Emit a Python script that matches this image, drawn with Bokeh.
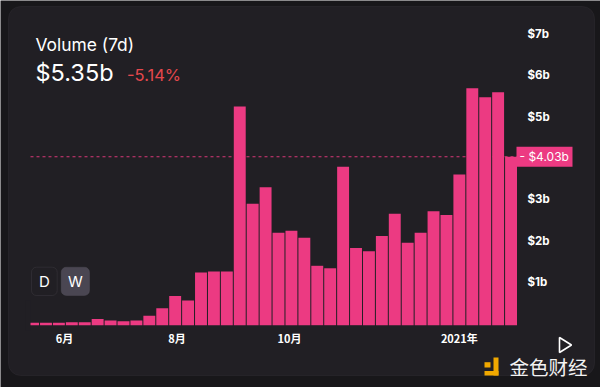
import pandas as pd
from bokeh.plotting import figure
from bokeh.models import (ColumnDataSource, FixedTicker, Label, BoxAnnotation,
                          PolyAnnotation, Range1d)
from bokeh.embed import file_html
from bokeh.resources import INLINE

# ---------------- data ----------------
weeks = pd.date_range("2020-05-15", periods=38, freq="7D")
volume_b = [0.01, 0.01, 0.01, 0.02, 0.02, 0.10, 0.065, 0.05, 0.065, 0.18,
            0.36, 0.66, 0.55, 1.23, 1.25, 1.25, 5.25, 2.89, 3.29, 2.19,
            2.24, 2.07, 1.39, 1.33, 3.79, 1.82, 1.74, 2.11, 2.65, 1.95,
            2.19, 2.71, 2.62, 3.60, 5.69, 5.47, 5.59, 4.03]
y_ticks = [1, 2, 3, 4, 5, 6, 7]
y_tick_labels = ["$1b", "$2b", "$3b", "$4b", "$5b", "$6b", "$7b"]
x_tick_dates = ["2020-06-01", "2020-08-01", "2020-10-01", "2021-01-01"]
x_tick_labels = ["6月", "8月", "10月", "2021年"]
title_text = "Volume (7d)"
total_text = "$5.35b"
change_text = "-5.14%"
last_value = 4.03
last_label = "- $4.03b"
buttons = ["D", "W"]
watermark = "金色财经"

# ---------------- style / layout ----------------
CARD = "#211f24"
PAGE = "#18171a"
PINK = "#ec3a82"
RED = "#e5484d"
GOLD = "#f0a800"
W, H = 600, 387
BARS_LEFT, BARS_RIGHT = 26.1, 517        # page px
CLIP_LEFT = 30                           # chart area left edge (page px)
ZERO_Y = 322.7                           # page px of value 0
px_per_b = 41.3
half_week = pd.Timedelta(days=3.5)
px_per_day = (BARS_RIGHT - BARS_LEFT) / (len(weeks) * 7)

bars_start = weeks[0] - half_week
bars_end = weeks[-1] + half_week
x_start = bars_start - pd.Timedelta(days=BARS_LEFT / px_per_day)
x_end = bars_end + pd.Timedelta(days=(W - BARS_RIGHT) / px_per_day)
line_start = bars_start + pd.Timedelta(days=(CLIP_LEFT - BARS_LEFT) / px_per_day)
y_start = -(H - ZERO_Y) / px_per_b
y_end = ZERO_Y / px_per_b
bar_bottom = -2.0 / px_per_b

src = ColumnDataSource(dict(week=weeks, vol=volume_b))

p = figure(width=W, height=H, output_backend="svg", toolbar_location=None,
           x_axis_type="datetime", y_axis_location="right",
           x_range=Range1d(x_start, x_end), y_range=Range1d(y_start, y_end),
           min_border=0)
p.background_fill_color = PAGE
p.border_fill_color = PAGE
p.outline_line_color = None
p.grid.visible = False


def sy(page_y):
    return H - page_y


def sbox(l, r, b, t, **kw):
    return BoxAnnotation(left=l, right=r, bottom=b, top=t,
                         left_units="screen", right_units="screen",
                         bottom_units="screen", top_units="screen", **kw)


# card
p.add_layout(sbox(8, 594, sy(375), sy(6), fill_color=CARD, fill_alpha=1,
                  line_color="#3a3840", line_width=1, border_radius=12,
                  level="underlay"))

# dashed current level
p.segment(x0=[line_start], x1=[bars_end], y0=[last_value], y1=[last_value],
          line_color=PINK, line_width=1, line_dash="3 3", line_alpha=0.9)

p.vbar(x="week", top="vol", bottom=bar_bottom, width=pd.Timedelta(days=6.46),
       source=src, fill_color=PINK, line_color=None)

# mask: the chart area starts at CLIP_LEFT, the first bar is cut there
p.add_layout(sbox(BARS_LEFT - 1, CLIP_LEFT, sy(330), sy(300), fill_color=CARD,
                  fill_alpha=1, line_color=None, level="glyph"))

# axes (drawn at fixed positions inside the frame)
xa = p.xaxis[0]
tick_ms = [pd.Timestamp(d).value // 10**6 for d in x_tick_dates]
xa.ticker = FixedTicker(ticks=tick_ms)
xa.major_label_overrides = {t: l for t, l in zip(tick_ms, x_tick_labels)}
xa.fixed_location = bar_bottom
xa.axis_line_color = None
xa.major_tick_line_color = None
xa.minor_tick_line_color = None
xa.major_tick_out = 0
xa.major_tick_in = 0
xa.major_label_standoff = 5
xa.major_label_text_color = "#ffffff"
xa.major_label_text_font = "Noto Sans CJK SC"
xa.major_label_text_font_style = "bold"
xa.major_label_text_font_size = "11px"

ya = p.yaxis[0]
ya.ticker = FixedTicker(ticks=y_ticks)
ya.major_label_overrides = {t: l for t, l in zip(y_ticks, y_tick_labels)}
ya.fixed_location = bars_end.value / 1e6
ya.axis_line_color = None
ya.major_tick_line_color = None
ya.minor_tick_line_color = None
ya.major_tick_out = 0
ya.major_tick_in = 0
ya.major_label_standoff = 10
ya.major_label_text_color = "#ffffff"
ya.major_label_text_font = "Inter"
ya.major_label_text_font_style = "bold"
ya.major_label_text_font_size = "11.5px"

# current value tag
tag_half = 10 / px_per_b
p.add_layout(BoxAnnotation(left=516, right=572, left_units="screen", right_units="screen",
                           bottom=last_value - tag_half, top=last_value + tag_half,
                           fill_color=PINK, fill_alpha=1, line_color=None,
                           level="overlay"))
p.add_layout(Label(x=519, y=last_value, x_units="screen", text=last_label,
                   text_color="#ffffff", text_font="Inter", text_font_size="12px",
                   text_baseline="middle", level="overlay"))

# header texts
p.add_layout(Label(x=35, y=sy(43.5), x_units="screen", y_units="screen",
                   text=title_text, text_color="#ffffff", text_font="Inter",
                   text_font_size="17.4px", text_baseline="alphabetic"))
p.add_layout(Label(x=35, y=sy(72), x_units="screen", y_units="screen",
                   text=total_text, text_color="#ffffff", text_font="Inter",
                   text_font_size="23.5px", text_baseline="alphabetic"))
p.add_layout(Label(x=126.5, y=sy(74.5), x_units="screen", y_units="screen",
                   text=change_text, text_color=RED, text_font="Inter",
                   text_font_size="16.5px", text_baseline="alphabetic"))

# D / W buttons
btn_style = [(31, 56.7, CARD, "#4e4b54"), (60.7, 89, "#4a4652", "#5c5864")]
for (l, r, fc, lc), t in zip(btn_style, buttons):
    p.add_layout(sbox(l, r, sy(295), sy(266.7), fill_color=fc, fill_alpha=1,
                      line_color=lc, line_width=1, border_radius=5, level="overlay"))
    p.add_layout(Label(x=(l + r) / 2, y=sy(281), x_units="screen", y_units="screen",
                       text=t, text_color="#ffffff", text_font="Inter",
                       text_font_size="15px", text_align="center",
                       text_baseline="middle", level="overlay"))

# play triangle
p.add_layout(PolyAnnotation(xs=[559, 559, 571], ys=[sy(337), sy(352), sy(344.5)],
                            xs_units="screen", ys_units="screen",
                            fill_alpha=0, line_color="#ffffff", line_alpha=1,
                            line_width=1.6))

# watermark logo + text
for l, r, t, b in [(484, 490, 361.7, 367), (493, 498, 357, 375), (484, 498, 370.5, 375)]:
    p.add_layout(sbox(l, r, sy(b), sy(t), fill_color=GOLD, fill_alpha=1, line_color=None))
p.add_layout(Label(x=509, y=sy(366), x_units="screen", y_units="screen",
                   text=watermark, text_color="#f2f2f2",
                   text_font="Noto Sans CJK SC", text_font_size="19.5px",
                   text_baseline="middle"))

open("out.html", "w").write(file_html(p, INLINE))
